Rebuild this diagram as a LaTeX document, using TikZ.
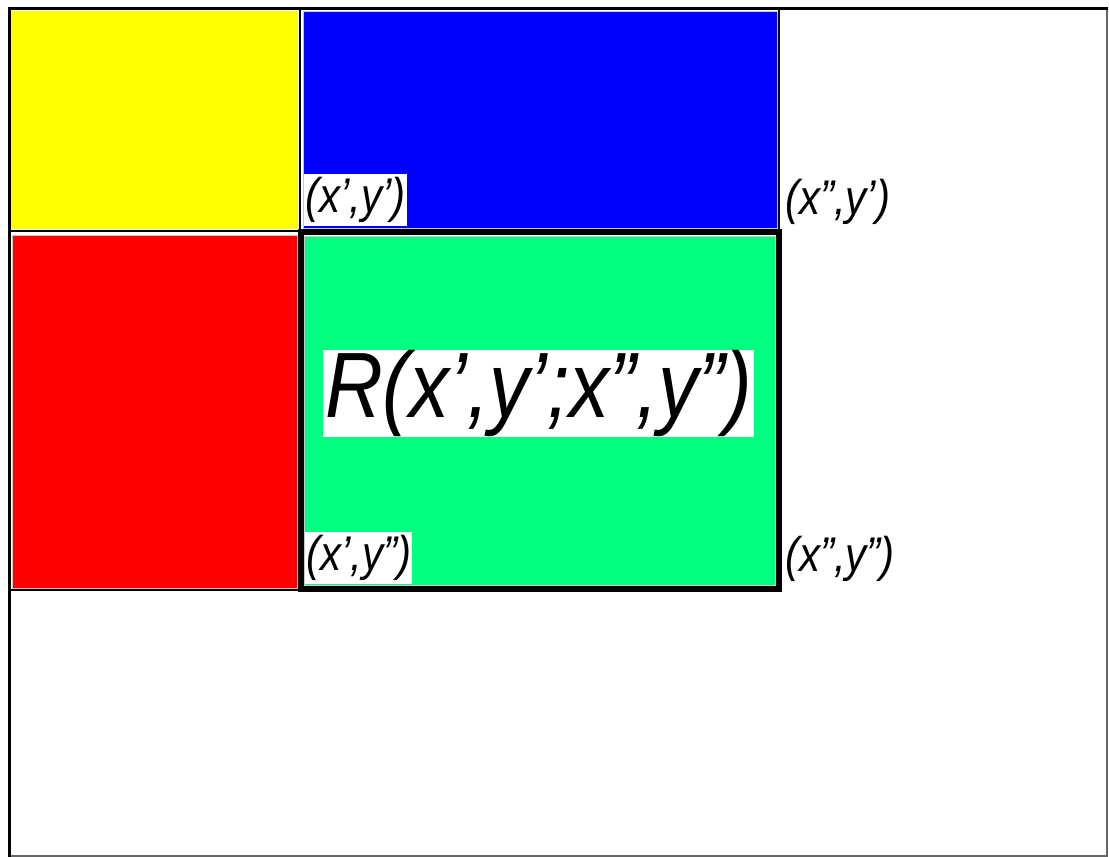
\documentclass[tikz,border=0pt]{standalone}
\usepackage{fontspec}
\setmainfont{Liberation Sans}
\usepackage{graphicx}
\definecolor{mygreen}{RGB}{0,255,128}
\definecolor{myyellow}{RGB}{255,255,0}
\definecolor{myblue}{RGB}{0,0,255}
\definecolor{myred}{RGB}{255,0,0}
\definecolor{edgegray}{RGB}{200,200,200}
\newcommand{\tall}[1]{\scalebox{1}[1.16]{#1}}
\begin{document}
\begin{tikzpicture}[x=1pt,y=-1pt,
  smalllbl/.style={font=\fontsize{42}{48}\selectfont\itshape, inner xsep=1pt, inner ysep=3pt, anchor=west},
  biglbl/.style={font=\fontsize{80}{90}\selectfont\itshape, inner xsep=2pt, inner ysep=0pt, fill=white},
  region/.style={draw=edgegray, line width=1pt},
  frameline/.style={draw=black, line width=2.5pt}]
\useasboundingbox (0,0) rectangle (1109,857);
% coloured regions
\fill[myyellow] (11,11) rectangle (298,229);
\filldraw[region, fill=myblue] (303,11) rectangle (777,228);
\filldraw[region, fill=myred] (12,235) rectangle (297,588);
\filldraw[region, fill=mygreen] (304,236) rectangle (775,585);
% outer frame
\draw[draw=gray!80!black, line width=1.5pt] (1107,8) -- (1107,856) -- (9,856);
\draw[frameline, line width=3pt] (9,857) -- (9,8) -- (1108,8);
% dividing lines
\draw[frameline] (9,231) -- (300,231);
\draw[frameline] (300,8) -- (300,590);
\draw[frameline] (9,590) -- (300,590);
\draw[frameline] (779,8) -- (779,231);
% thick rectangle
\draw[black, line width=6pt] (301,232) rectangle (779,589);
% labels
\node[smalllbl, fill=white] (p1) at (304,200) {\tall{(x’,y’)}};
\node[smalllbl] (p2) at (784,201.5) {\tall{(x”,y’)}};
\node[smalllbl, fill=white] (p3) at (305,558) {\tall{(x’,y”)}};
\node[smalllbl] (p4) at (784,558.5) {\tall{(x”,y”)}};
\node[biglbl] (r) at (538.5,393.5) {\tall{R(x’,y’;x”,y”)}};
\end{tikzpicture}
\end{document}
